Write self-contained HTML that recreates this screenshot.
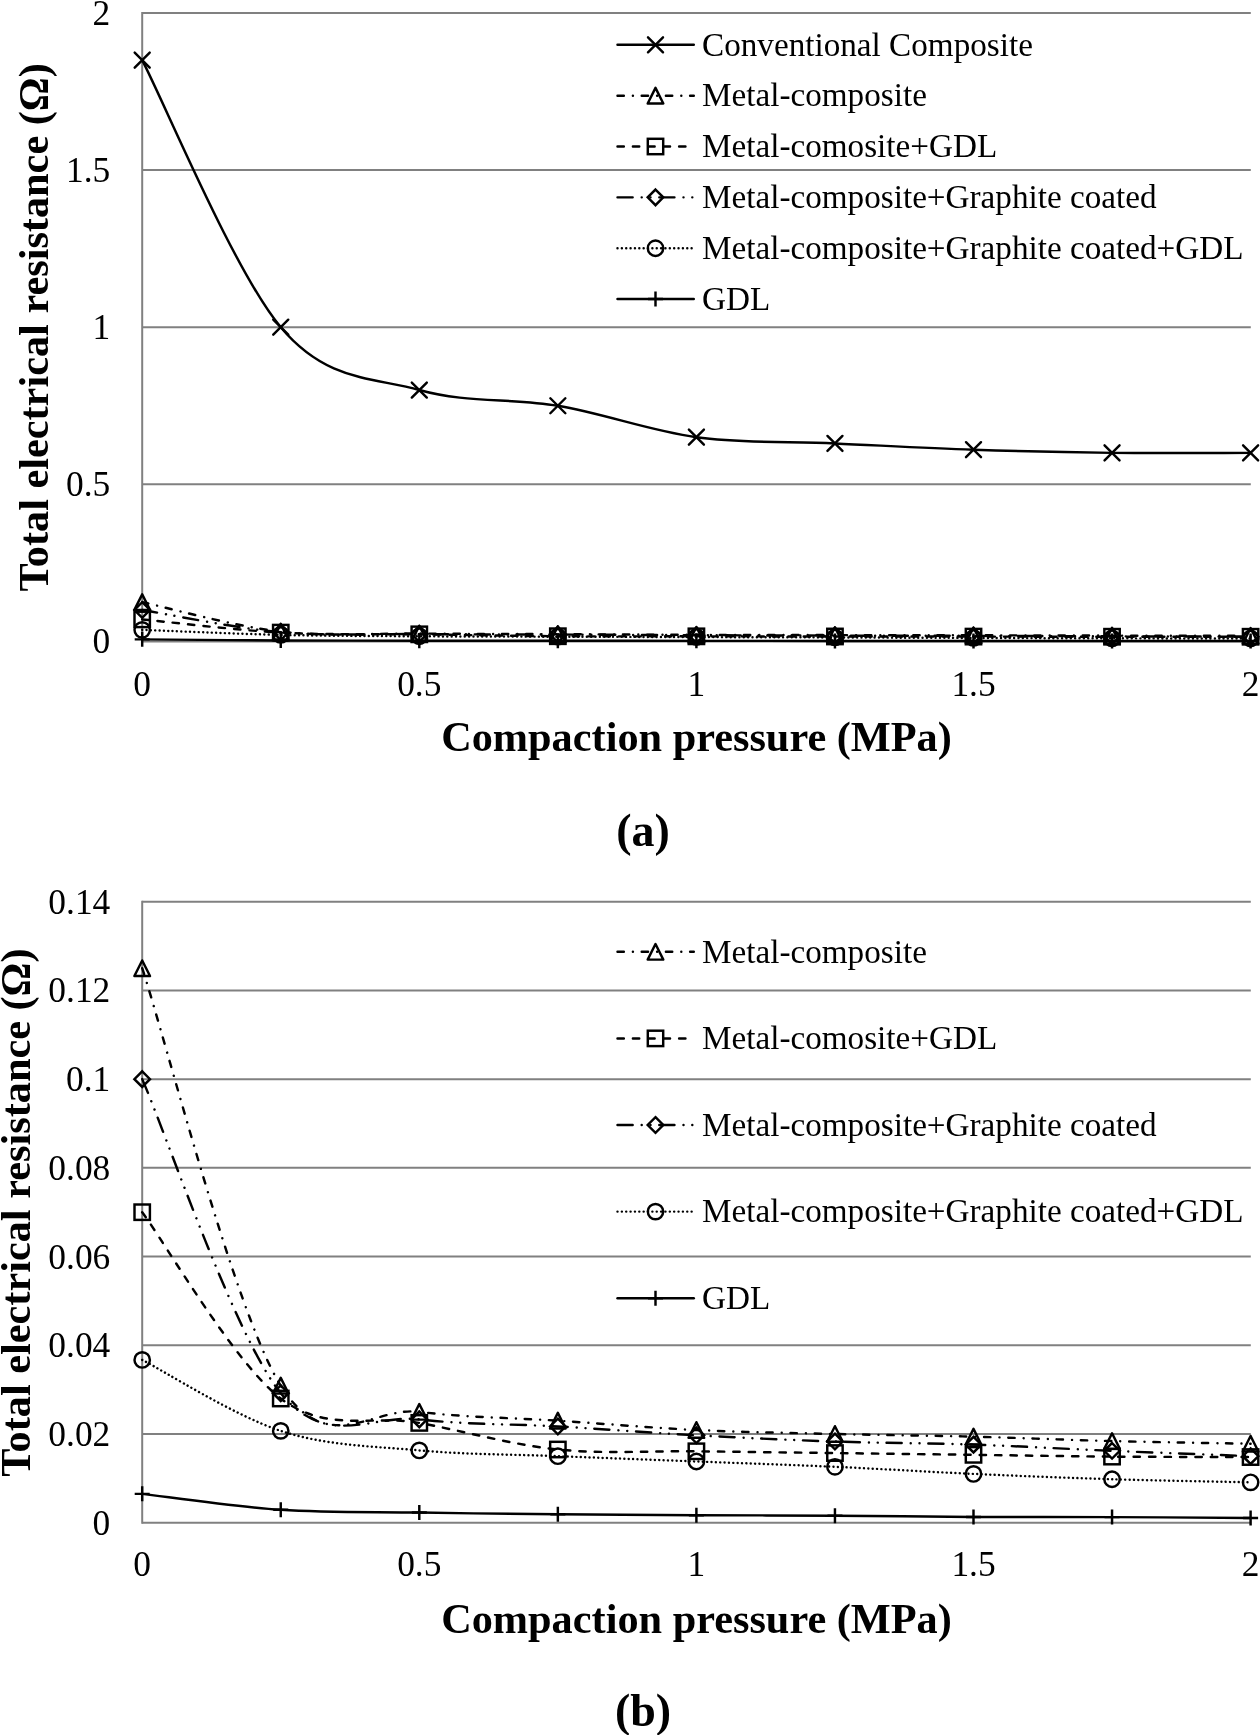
<!DOCTYPE html>
<html><head><meta charset="utf-8"><style>
html,body{margin:0;padding:0;background:#fff;}
svg{display:block;filter:grayscale(1);}
text{font-family:"Liberation Serif",serif;fill:#000;}
.tk{font-size:35.4px;}
.lg{font-size:33.2px;}
.ti{font-size:42.3px;font-weight:bold;}
.tl{font-size:46px;font-weight:bold;}
</style></head><body>
<svg width="1260" height="1735" viewBox="0 0 1260 1735">
<rect width="1260" height="1735" fill="#fff"/>
<path d="M142.2,641.40L1250.8,641.40" stroke="#808080" stroke-width="2"/>
<path d="M142.2,484.30L1250.8,484.30" stroke="#808080" stroke-width="2"/>
<path d="M142.2,327.20L1250.8,327.20" stroke="#808080" stroke-width="2"/>
<path d="M142.2,170.10L1250.8,170.10" stroke="#808080" stroke-width="2"/>
<path d="M142.2,13.00L1250.8,13.00" stroke="#808080" stroke-width="2"/>
<path d="M142.2,12.00L142.2,642.40" stroke="#808080" stroke-width="2"/>
<text x="110.3" y="653.40" class="tk" text-anchor="end">0</text>
<text x="110.3" y="496.30" class="tk" text-anchor="end">0.5</text>
<text x="110.3" y="339.20" class="tk" text-anchor="end">1</text>
<text x="110.3" y="182.10" class="tk" text-anchor="end">1.5</text>
<text x="110.3" y="25.00" class="tk" text-anchor="end">2</text>
<text x="142.20" y="695.5" class="tk" text-anchor="middle">0</text>
<text x="419.30" y="695.5" class="tk" text-anchor="middle">0.5</text>
<text x="696.40" y="695.5" class="tk" text-anchor="middle">1</text>
<text x="973.50" y="695.5" class="tk" text-anchor="middle">1.5</text>
<text x="1250.60" y="695.5" class="tk" text-anchor="middle">2</text>
<text x="696.5" y="750.6" class="ti" text-anchor="middle">Compaction pressure (MPa)</text>
<text x="643" y="846" class="tl" text-anchor="middle">(a)</text>
<text transform="translate(47.6,327.4) rotate(-90)" x="0" y="0" class="ti" text-anchor="middle">Total electrical resistance (Ω)</text>
<path d="M142.20,639.36 C165.29,639.55 234.57,640.27 280.75,640.49 C326.93,640.71 373.12,640.63 419.30,640.68 C465.48,640.74 511.67,640.77 557.85,640.80 C604.03,640.83 650.22,640.85 696.40,640.87 C742.58,640.88 788.77,640.88 834.95,640.90 C881.13,640.92 927.32,640.97 973.50,640.99 C1019.68,641.01 1065.87,640.99 1112.05,641.00 C1158.23,641.02 1227.51,641.05 1250.60,641.06" fill="none" stroke="#000" stroke-width="2.45" stroke-linecap="round" stroke-linejoin="round"/><path d="M134.70,639.36L149.70,639.36M142.20,631.86L142.20,646.86" stroke="#000" stroke-width="2.45" fill="none"/><path d="M273.25,640.49L288.25,640.49M280.75,632.99L280.75,647.99" stroke="#000" stroke-width="2.45" fill="none"/><path d="M411.80,640.68L426.80,640.68M419.30,633.18L419.30,648.18" stroke="#000" stroke-width="2.45" fill="none"/><path d="M550.35,640.80L565.35,640.80M557.85,633.30L557.85,648.30" stroke="#000" stroke-width="2.45" fill="none"/><path d="M688.90,640.87L703.90,640.87M696.40,633.37L696.40,648.37" stroke="#000" stroke-width="2.45" fill="none"/><path d="M827.45,640.90L842.45,640.90M834.95,633.40L834.95,648.40" stroke="#000" stroke-width="2.45" fill="none"/><path d="M966.00,640.99L981.00,640.99M973.50,633.49L973.50,648.49" stroke="#000" stroke-width="2.45" fill="none"/><path d="M1104.55,641.00L1119.55,641.00M1112.05,633.50L1112.05,648.50" stroke="#000" stroke-width="2.45" fill="none"/><path d="M1243.10,641.06L1258.10,641.06M1250.60,633.56L1250.60,648.56" stroke="#000" stroke-width="2.45" fill="none"/>
<path d="M142.20,629.87 C165.29,630.71 234.57,633.83 280.75,634.90 C326.93,635.96 373.12,635.98 419.30,636.28 C465.48,636.58 511.67,636.56 557.85,636.69 C604.03,636.82 650.22,636.94 696.40,637.06 C742.58,637.19 788.77,637.29 834.95,637.44 C881.13,637.59 927.32,637.80 973.50,637.94 C1019.68,638.09 1065.87,638.22 1112.05,638.32 C1158.23,638.42 1227.51,638.50 1250.60,638.54" fill="none" stroke="#000" stroke-width="2.45" stroke-linecap="round" stroke-linejoin="round" stroke-dasharray="0.01 4.35"/><circle cx="142.20" cy="629.87" r="7.7" stroke="#000" stroke-width="2.45" fill="none"/><circle cx="280.75" cy="634.90" r="7.7" stroke="#000" stroke-width="2.45" fill="none"/><circle cx="419.30" cy="636.28" r="7.7" stroke="#000" stroke-width="2.45" fill="none"/><circle cx="557.85" cy="636.69" r="7.7" stroke="#000" stroke-width="2.45" fill="none"/><circle cx="696.40" cy="637.06" r="7.7" stroke="#000" stroke-width="2.45" fill="none"/><circle cx="834.95" cy="637.44" r="7.7" stroke="#000" stroke-width="2.45" fill="none"/><circle cx="973.50" cy="637.94" r="7.7" stroke="#000" stroke-width="2.45" fill="none"/><circle cx="1112.05" cy="638.32" r="7.7" stroke="#000" stroke-width="2.45" fill="none"/><circle cx="1250.60" cy="638.54" r="7.7" stroke="#000" stroke-width="2.45" fill="none"/>
<path d="M142.20,609.98 C165.29,613.69 234.57,628.21 280.75,632.23 C326.93,636.24 373.12,633.69 419.30,634.08 C465.48,634.47 511.67,634.39 557.85,634.58 C604.03,634.77 650.22,635.03 696.40,635.21 C742.58,635.39 788.77,635.54 834.95,635.65 C881.13,635.76 927.32,635.76 973.50,635.87 C1019.68,635.98 1065.87,636.17 1112.05,636.31 C1158.23,636.45 1227.51,636.62 1250.60,636.69" fill="none" stroke="#000" stroke-width="2.45" stroke-linecap="round" stroke-linejoin="round" stroke-dasharray="15.15 9.05 0.01 8.79 0.01 8.79"/><path d="M142.20,602.18L150.00,609.98L142.20,617.78L134.40,609.98Z" stroke="#000" stroke-width="2.45" fill="none" stroke-linejoin="miter"/><path d="M280.75,624.43L288.55,632.23L280.75,640.03L272.95,632.23Z" stroke="#000" stroke-width="2.45" fill="none" stroke-linejoin="miter"/><path d="M419.30,626.28L427.10,634.08L419.30,641.88L411.50,634.08Z" stroke="#000" stroke-width="2.45" fill="none" stroke-linejoin="miter"/><path d="M557.85,626.78L565.65,634.58L557.85,642.38L550.05,634.58Z" stroke="#000" stroke-width="2.45" fill="none" stroke-linejoin="miter"/><path d="M696.40,627.41L704.20,635.21L696.40,643.01L688.60,635.21Z" stroke="#000" stroke-width="2.45" fill="none" stroke-linejoin="miter"/><path d="M834.95,627.85L842.75,635.65L834.95,643.45L827.15,635.65Z" stroke="#000" stroke-width="2.45" fill="none" stroke-linejoin="miter"/><path d="M973.50,628.07L981.30,635.87L973.50,643.67L965.70,635.87Z" stroke="#000" stroke-width="2.45" fill="none" stroke-linejoin="miter"/><path d="M1112.05,628.51L1119.85,636.31L1112.05,644.11L1104.25,636.31Z" stroke="#000" stroke-width="2.45" fill="none" stroke-linejoin="miter"/><path d="M1250.60,628.89L1258.40,636.69L1250.60,644.49L1242.80,636.69Z" stroke="#000" stroke-width="2.45" fill="none" stroke-linejoin="miter"/>
<path d="M142.20,619.41 C165.29,621.61 234.57,630.11 280.75,632.60 C326.93,635.09 373.12,633.73 419.30,634.33 C465.48,634.93 511.67,635.88 557.85,636.22 C604.03,636.55 650.22,636.30 696.40,636.34 C742.58,636.38 788.77,636.43 834.95,636.47 C881.13,636.51 927.32,636.55 973.50,636.59 C1019.68,636.63 1065.87,636.69 1112.05,636.72 C1158.23,636.74 1227.51,636.74 1250.60,636.75" fill="none" stroke="#000" stroke-width="2.45" stroke-linecap="round" stroke-linejoin="round" stroke-dasharray="6.35 9.05"/><rect x="134.50" y="611.71" width="15.4" height="15.4" stroke="#000" stroke-width="2.45" fill="none"/><rect x="273.05" y="624.90" width="15.4" height="15.4" stroke="#000" stroke-width="2.45" fill="none"/><rect x="411.60" y="626.63" width="15.4" height="15.4" stroke="#000" stroke-width="2.45" fill="none"/><rect x="550.15" y="628.52" width="15.4" height="15.4" stroke="#000" stroke-width="2.45" fill="none"/><rect x="688.70" y="628.64" width="15.4" height="15.4" stroke="#000" stroke-width="2.45" fill="none"/><rect x="827.25" y="628.77" width="15.4" height="15.4" stroke="#000" stroke-width="2.45" fill="none"/><rect x="965.80" y="628.89" width="15.4" height="15.4" stroke="#000" stroke-width="2.45" fill="none"/><rect x="1104.35" y="629.02" width="15.4" height="15.4" stroke="#000" stroke-width="2.45" fill="none"/><rect x="1242.90" y="629.05" width="15.4" height="15.4" stroke="#000" stroke-width="2.45" fill="none"/>
<path d="M142.20,602.12 C165.29,607.05 234.57,626.45 280.75,631.69 C326.93,636.93 373.12,633.13 419.30,633.54 C465.48,633.96 511.67,633.96 557.85,634.17 C604.03,634.39 650.22,634.68 696.40,634.83 C742.58,634.99 788.77,635.04 834.95,635.12 C881.13,635.19 927.32,635.22 973.50,635.30 C1019.68,635.39 1065.87,635.53 1112.05,635.62 C1158.23,635.70 1227.51,635.78 1250.60,635.81" fill="none" stroke="#000" stroke-width="2.45" stroke-linecap="round" stroke-linejoin="round" stroke-dasharray="6.35 9.05 0.01 8.79"/><path d="M142.20,594.33L150.00,609.92L134.40,609.92Z" stroke="#000" stroke-width="2.45" fill="none" stroke-linejoin="round"/><path d="M280.75,623.89L288.55,639.49L272.95,639.49Z" stroke="#000" stroke-width="2.45" fill="none" stroke-linejoin="round"/><path d="M419.30,625.75L427.10,641.34L411.50,641.34Z" stroke="#000" stroke-width="2.45" fill="none" stroke-linejoin="round"/><path d="M557.85,626.37L565.65,641.97L550.05,641.97Z" stroke="#000" stroke-width="2.45" fill="none" stroke-linejoin="round"/><path d="M696.40,627.03L704.20,642.63L688.60,642.63Z" stroke="#000" stroke-width="2.45" fill="none" stroke-linejoin="round"/><path d="M834.95,627.32L842.75,642.92L827.15,642.92Z" stroke="#000" stroke-width="2.45" fill="none" stroke-linejoin="round"/><path d="M973.50,627.50L981.30,643.10L965.70,643.10Z" stroke="#000" stroke-width="2.45" fill="none" stroke-linejoin="round"/><path d="M1112.05,627.82L1119.85,643.42L1104.25,643.42Z" stroke="#000" stroke-width="2.45" fill="none" stroke-linejoin="round"/><path d="M1250.60,628.01L1258.40,643.61L1242.80,643.61Z" stroke="#000" stroke-width="2.45" fill="none" stroke-linejoin="round"/>
<path d="M142.20,60.13 C165.29,104.64 234.57,272.21 280.75,327.20 C326.93,382.19 373.12,376.95 419.30,390.04 C465.48,403.13 511.67,397.89 557.85,405.75 C604.03,413.61 650.22,430.89 696.40,437.17 C742.58,443.45 788.77,441.36 834.95,443.45 C881.13,445.55 927.32,448.17 973.50,449.74 C1019.68,451.31 1065.87,452.36 1112.05,452.88 C1158.23,453.40 1227.51,452.88 1250.60,452.88" fill="none" stroke="#000" stroke-width="2.45" stroke-linecap="round" stroke-linejoin="round"/><path d="M134.70,52.63L149.70,67.63M134.70,67.63L149.70,52.63" stroke="#000" stroke-width="2.45" fill="none" stroke-linecap="round"/><path d="M273.25,319.70L288.25,334.70M273.25,334.70L288.25,319.70" stroke="#000" stroke-width="2.45" fill="none" stroke-linecap="round"/><path d="M411.80,382.54L426.80,397.54M411.80,397.54L426.80,382.54" stroke="#000" stroke-width="2.45" fill="none" stroke-linecap="round"/><path d="M550.35,398.25L565.35,413.25M550.35,413.25L565.35,398.25" stroke="#000" stroke-width="2.45" fill="none" stroke-linecap="round"/><path d="M688.90,429.67L703.90,444.67M688.90,444.67L703.90,429.67" stroke="#000" stroke-width="2.45" fill="none" stroke-linecap="round"/><path d="M827.45,435.95L842.45,450.95M827.45,450.95L842.45,435.95" stroke="#000" stroke-width="2.45" fill="none" stroke-linecap="round"/><path d="M966.00,442.24L981.00,457.24M966.00,457.24L981.00,442.24" stroke="#000" stroke-width="2.45" fill="none" stroke-linecap="round"/><path d="M1104.55,445.38L1119.55,460.38M1104.55,460.38L1119.55,445.38" stroke="#000" stroke-width="2.45" fill="none" stroke-linecap="round"/><path d="M1243.10,445.38L1258.10,460.38M1243.10,460.38L1258.10,445.38" stroke="#000" stroke-width="2.45" fill="none" stroke-linecap="round"/>
<path d="M617.5,44.80L693.8,44.80" stroke="#000" stroke-width="2.45" stroke-linecap="round"/><path d="M648.00,37.30L663.00,52.30M648.00,52.30L663.00,37.30" stroke="#000" stroke-width="2.45" fill="none" stroke-linecap="round"/><text x="702" y="55.50" class="lg">Conventional Composite</text>
<path d="M617.5,95.65L693.8,95.65" stroke="#000" stroke-width="2.45" stroke-linecap="round" stroke-dasharray="6.35 9.05 0.01 8.79"/><path d="M655.50,87.85L663.30,103.45L647.70,103.45Z" stroke="#000" stroke-width="2.45" fill="none" stroke-linejoin="round"/><text x="702" y="106.35" class="lg">Metal-composite</text>
<path d="M617.5,146.50L693.8,146.50" stroke="#000" stroke-width="2.45" stroke-linecap="round" stroke-dasharray="6.35 9.05"/><rect x="647.80" y="138.80" width="15.4" height="15.4" stroke="#000" stroke-width="2.45" fill="none"/><text x="702" y="157.20" class="lg">Metal-comosite+GDL</text>
<path d="M617.5,197.35L693.8,197.35" stroke="#000" stroke-width="2.45" stroke-linecap="round" stroke-dasharray="15.15 9.05 0.01 8.79 0.01 8.79"/><path d="M655.50,189.55L663.30,197.35L655.50,205.15L647.70,197.35Z" stroke="#000" stroke-width="2.45" fill="none" stroke-linejoin="miter"/><text x="702" y="208.05" class="lg">Metal-composite+Graphite coated</text>
<path d="M617.5,248.20L693.8,248.20" stroke="#000" stroke-width="2.45" stroke-linecap="round" stroke-dasharray="0.01 4.35"/><circle cx="655.50" cy="248.20" r="7.7" stroke="#000" stroke-width="2.45" fill="none"/><text x="702" y="258.90" class="lg">Metal-composite+Graphite coated+GDL</text>
<path d="M617.5,299.05L693.8,299.05" stroke="#000" stroke-width="2.45" stroke-linecap="round"/><path d="M648.00,299.05L663.00,299.05M655.50,291.55L655.50,306.55" stroke="#000" stroke-width="2.45" fill="none"/><text x="702" y="309.75" class="lg">GDL</text>
<path d="M142.2,1522.70L1250.8,1522.70" stroke="#808080" stroke-width="2"/>
<path d="M142.2,1433.99L1250.8,1433.99" stroke="#808080" stroke-width="2"/>
<path d="M142.2,1345.27L1250.8,1345.27" stroke="#808080" stroke-width="2"/>
<path d="M142.2,1256.56L1250.8,1256.56" stroke="#808080" stroke-width="2"/>
<path d="M142.2,1167.84L1250.8,1167.84" stroke="#808080" stroke-width="2"/>
<path d="M142.2,1079.13L1250.8,1079.13" stroke="#808080" stroke-width="2"/>
<path d="M142.2,990.42L1250.8,990.42" stroke="#808080" stroke-width="2"/>
<path d="M142.2,901.70L1250.8,901.70" stroke="#808080" stroke-width="2"/>
<path d="M142.2,900.70L142.2,1523.70" stroke="#808080" stroke-width="2"/>
<text x="110.3" y="1534.70" class="tk" text-anchor="end">0</text>
<text x="110.3" y="1445.99" class="tk" text-anchor="end">0.02</text>
<text x="110.3" y="1357.27" class="tk" text-anchor="end">0.04</text>
<text x="110.3" y="1268.56" class="tk" text-anchor="end">0.06</text>
<text x="110.3" y="1179.84" class="tk" text-anchor="end">0.08</text>
<text x="110.3" y="1091.13" class="tk" text-anchor="end">0.1</text>
<text x="110.3" y="1002.42" class="tk" text-anchor="end">0.12</text>
<text x="110.3" y="913.70" class="tk" text-anchor="end">0.14</text>
<text x="142.20" y="1576" class="tk" text-anchor="middle">0</text>
<text x="419.30" y="1576" class="tk" text-anchor="middle">0.5</text>
<text x="696.40" y="1576" class="tk" text-anchor="middle">1</text>
<text x="973.50" y="1576" class="tk" text-anchor="middle">1.5</text>
<text x="1250.60" y="1576" class="tk" text-anchor="middle">2</text>
<text x="696.5" y="1632.5" class="ti" text-anchor="middle">Compaction pressure (MPa)</text>
<text x="643" y="1726.3" class="tl" text-anchor="middle">(b)</text>
<text transform="translate(30,1212.6) rotate(-90)" x="0" y="0" class="ti" text-anchor="middle">Total electrical resistance (Ω)</text>
<path d="M142.20,1493.87 C165.29,1496.53 234.57,1506.72 280.75,1509.84 C326.93,1512.96 373.12,1511.85 419.30,1512.59 C465.48,1513.33 511.67,1513.84 557.85,1514.27 C604.03,1514.70 650.22,1514.92 696.40,1515.16 C742.58,1515.40 788.77,1515.40 834.95,1515.69 C881.13,1515.99 927.32,1516.70 973.50,1516.93 C1019.68,1517.17 1065.87,1516.95 1112.05,1517.11 C1158.23,1517.27 1227.51,1517.78 1250.60,1517.91" fill="none" stroke="#000" stroke-width="2.45" stroke-linecap="round" stroke-linejoin="round"/><path d="M134.70,1493.87L149.70,1493.87M142.20,1486.37L142.20,1501.37" stroke="#000" stroke-width="2.45" fill="none"/><path d="M273.25,1509.84L288.25,1509.84M280.75,1502.34L280.75,1517.34" stroke="#000" stroke-width="2.45" fill="none"/><path d="M411.80,1512.59L426.80,1512.59M419.30,1505.09L419.30,1520.09" stroke="#000" stroke-width="2.45" fill="none"/><path d="M550.35,1514.27L565.35,1514.27M557.85,1506.77L557.85,1521.77" stroke="#000" stroke-width="2.45" fill="none"/><path d="M688.90,1515.16L703.90,1515.16M696.40,1507.66L696.40,1522.66" stroke="#000" stroke-width="2.45" fill="none"/><path d="M827.45,1515.69L842.45,1515.69M834.95,1508.19L834.95,1523.19" stroke="#000" stroke-width="2.45" fill="none"/><path d="M966.00,1516.93L981.00,1516.93M973.50,1509.43L973.50,1524.43" stroke="#000" stroke-width="2.45" fill="none"/><path d="M1104.55,1517.11L1119.55,1517.11M1112.05,1509.61L1112.05,1524.61" stroke="#000" stroke-width="2.45" fill="none"/><path d="M1243.10,1517.91L1258.10,1517.91M1250.60,1510.41L1250.60,1525.41" stroke="#000" stroke-width="2.45" fill="none"/>
<path d="M142.20,1359.91 C165.29,1371.74 234.57,1415.80 280.75,1430.88 C326.93,1445.96 373.12,1446.18 419.30,1450.40 C465.48,1454.61 511.67,1454.32 557.85,1456.16 C604.03,1458.01 650.22,1459.71 696.40,1461.49 C742.58,1463.26 788.77,1464.74 834.95,1466.81 C881.13,1468.88 927.32,1471.84 973.50,1473.91 C1019.68,1475.98 1065.87,1477.83 1112.05,1479.23 C1158.23,1480.63 1227.51,1481.82 1250.60,1482.34" fill="none" stroke="#000" stroke-width="2.45" stroke-linecap="round" stroke-linejoin="round" stroke-dasharray="0.01 4.35"/><circle cx="142.20" cy="1359.91" r="7.7" stroke="#000" stroke-width="2.45" fill="none"/><circle cx="280.75" cy="1430.88" r="7.7" stroke="#000" stroke-width="2.45" fill="none"/><circle cx="419.30" cy="1450.40" r="7.7" stroke="#000" stroke-width="2.45" fill="none"/><circle cx="557.85" cy="1456.16" r="7.7" stroke="#000" stroke-width="2.45" fill="none"/><circle cx="696.40" cy="1461.49" r="7.7" stroke="#000" stroke-width="2.45" fill="none"/><circle cx="834.95" cy="1466.81" r="7.7" stroke="#000" stroke-width="2.45" fill="none"/><circle cx="973.50" cy="1473.91" r="7.7" stroke="#000" stroke-width="2.45" fill="none"/><circle cx="1112.05" cy="1479.23" r="7.7" stroke="#000" stroke-width="2.45" fill="none"/><circle cx="1250.60" cy="1482.34" r="7.7" stroke="#000" stroke-width="2.45" fill="none"/>
<path d="M142.20,1079.13 C165.29,1131.47 234.57,1336.47 280.75,1393.18 C326.93,1449.88 373.12,1413.80 419.30,1419.35 C465.48,1424.89 511.67,1423.78 557.85,1426.45 C604.03,1429.11 650.22,1432.80 696.40,1435.32 C742.58,1437.83 788.77,1439.97 834.95,1441.53 C881.13,1443.08 927.32,1443.08 973.50,1444.63 C1019.68,1446.18 1065.87,1448.92 1112.05,1450.84 C1158.23,1452.76 1227.51,1455.28 1250.60,1456.16" fill="none" stroke="#000" stroke-width="2.45" stroke-linecap="round" stroke-linejoin="round" stroke-dasharray="15.15 9.05 0.01 8.79 0.01 8.79"/><path d="M142.20,1071.33L150.00,1079.13L142.20,1086.93L134.40,1079.13Z" stroke="#000" stroke-width="2.45" fill="none" stroke-linejoin="miter"/><path d="M280.75,1385.38L288.55,1393.18L280.75,1400.98L272.95,1393.18Z" stroke="#000" stroke-width="2.45" fill="none" stroke-linejoin="miter"/><path d="M419.30,1411.55L427.10,1419.35L419.30,1427.15L411.50,1419.35Z" stroke="#000" stroke-width="2.45" fill="none" stroke-linejoin="miter"/><path d="M557.85,1418.65L565.65,1426.45L557.85,1434.25L550.05,1426.45Z" stroke="#000" stroke-width="2.45" fill="none" stroke-linejoin="miter"/><path d="M696.40,1427.52L704.20,1435.32L696.40,1443.12L688.60,1435.32Z" stroke="#000" stroke-width="2.45" fill="none" stroke-linejoin="miter"/><path d="M834.95,1433.73L842.75,1441.53L834.95,1449.33L827.15,1441.53Z" stroke="#000" stroke-width="2.45" fill="none" stroke-linejoin="miter"/><path d="M973.50,1436.83L981.30,1444.63L973.50,1452.43L965.70,1444.63Z" stroke="#000" stroke-width="2.45" fill="none" stroke-linejoin="miter"/><path d="M1112.05,1443.04L1119.85,1450.84L1112.05,1458.64L1104.25,1450.84Z" stroke="#000" stroke-width="2.45" fill="none" stroke-linejoin="miter"/><path d="M1250.60,1448.36L1258.40,1456.16L1250.60,1463.96L1242.80,1456.16Z" stroke="#000" stroke-width="2.45" fill="none" stroke-linejoin="miter"/>
<path d="M142.20,1212.20 C165.29,1243.25 234.57,1363.38 280.75,1398.50 C326.93,1433.62 373.12,1414.39 419.30,1422.90 C465.48,1431.40 511.67,1444.78 557.85,1449.51 C604.03,1454.24 650.22,1450.69 696.40,1451.29 C742.58,1451.88 788.77,1452.47 834.95,1453.06 C881.13,1453.65 927.32,1454.24 973.50,1454.83 C1019.68,1455.43 1065.87,1456.24 1112.05,1456.61 C1158.23,1456.98 1227.51,1456.98 1250.60,1457.05" fill="none" stroke="#000" stroke-width="2.45" stroke-linecap="round" stroke-linejoin="round" stroke-dasharray="6.35 9.05"/><rect x="134.50" y="1204.50" width="15.4" height="15.4" stroke="#000" stroke-width="2.45" fill="none"/><rect x="273.05" y="1390.80" width="15.4" height="15.4" stroke="#000" stroke-width="2.45" fill="none"/><rect x="411.60" y="1415.20" width="15.4" height="15.4" stroke="#000" stroke-width="2.45" fill="none"/><rect x="550.15" y="1441.81" width="15.4" height="15.4" stroke="#000" stroke-width="2.45" fill="none"/><rect x="688.70" y="1443.59" width="15.4" height="15.4" stroke="#000" stroke-width="2.45" fill="none"/><rect x="827.25" y="1445.36" width="15.4" height="15.4" stroke="#000" stroke-width="2.45" fill="none"/><rect x="965.80" y="1447.13" width="15.4" height="15.4" stroke="#000" stroke-width="2.45" fill="none"/><rect x="1104.35" y="1448.91" width="15.4" height="15.4" stroke="#000" stroke-width="2.45" fill="none"/><rect x="1242.90" y="1449.35" width="15.4" height="15.4" stroke="#000" stroke-width="2.45" fill="none"/>
<path d="M142.20,968.24 C165.29,1037.80 234.57,1311.71 280.75,1385.64 C326.93,1459.57 373.12,1405.97 419.30,1411.81 C465.48,1417.65 511.67,1417.65 557.85,1420.68 C604.03,1423.71 650.22,1427.78 696.40,1429.99 C742.58,1432.21 788.77,1432.88 834.95,1433.99 C881.13,1435.09 927.32,1435.46 973.50,1436.65 C1019.68,1437.83 1065.87,1439.90 1112.05,1441.08 C1158.23,1442.27 1227.51,1443.30 1250.60,1443.74" fill="none" stroke="#000" stroke-width="2.45" stroke-linecap="round" stroke-linejoin="round" stroke-dasharray="6.35 9.05 0.01 8.79"/><path d="M142.20,960.44L150.00,976.04L134.40,976.04Z" stroke="#000" stroke-width="2.45" fill="none" stroke-linejoin="round"/><path d="M280.75,1377.84L288.55,1393.44L272.95,1393.44Z" stroke="#000" stroke-width="2.45" fill="none" stroke-linejoin="round"/><path d="M419.30,1404.01L427.10,1419.61L411.50,1419.61Z" stroke="#000" stroke-width="2.45" fill="none" stroke-linejoin="round"/><path d="M557.85,1412.88L565.65,1428.48L550.05,1428.48Z" stroke="#000" stroke-width="2.45" fill="none" stroke-linejoin="round"/><path d="M696.40,1422.19L704.20,1437.79L688.60,1437.79Z" stroke="#000" stroke-width="2.45" fill="none" stroke-linejoin="round"/><path d="M834.95,1426.19L842.75,1441.79L827.15,1441.79Z" stroke="#000" stroke-width="2.45" fill="none" stroke-linejoin="round"/><path d="M973.50,1428.85L981.30,1444.45L965.70,1444.45Z" stroke="#000" stroke-width="2.45" fill="none" stroke-linejoin="round"/><path d="M1112.05,1433.28L1119.85,1448.88L1104.25,1448.88Z" stroke="#000" stroke-width="2.45" fill="none" stroke-linejoin="round"/><path d="M1250.60,1435.94L1258.40,1451.54L1242.80,1451.54Z" stroke="#000" stroke-width="2.45" fill="none" stroke-linejoin="round"/>
<path d="M617.5,951.80L693.8,951.80" stroke="#000" stroke-width="2.45" stroke-linecap="round" stroke-dasharray="6.35 9.05 0.01 8.79"/><path d="M655.50,944.00L663.30,959.60L647.70,959.60Z" stroke="#000" stroke-width="2.45" fill="none" stroke-linejoin="round"/><text x="702" y="962.50" class="lg">Metal-composite</text>
<path d="M617.5,1038.40L693.8,1038.40" stroke="#000" stroke-width="2.45" stroke-linecap="round" stroke-dasharray="6.35 9.05"/><rect x="647.80" y="1030.70" width="15.4" height="15.4" stroke="#000" stroke-width="2.45" fill="none"/><text x="702" y="1049.10" class="lg">Metal-comosite+GDL</text>
<path d="M617.5,1125.00L693.8,1125.00" stroke="#000" stroke-width="2.45" stroke-linecap="round" stroke-dasharray="15.15 9.05 0.01 8.79 0.01 8.79"/><path d="M655.50,1117.20L663.30,1125.00L655.50,1132.80L647.70,1125.00Z" stroke="#000" stroke-width="2.45" fill="none" stroke-linejoin="miter"/><text x="702" y="1135.70" class="lg">Metal-composite+Graphite coated</text>
<path d="M617.5,1211.60L693.8,1211.60" stroke="#000" stroke-width="2.45" stroke-linecap="round" stroke-dasharray="0.01 4.35"/><circle cx="655.50" cy="1211.60" r="7.7" stroke="#000" stroke-width="2.45" fill="none"/><text x="702" y="1222.30" class="lg">Metal-composite+Graphite coated+GDL</text>
<path d="M617.5,1298.20L693.8,1298.20" stroke="#000" stroke-width="2.45" stroke-linecap="round"/><path d="M648.00,1298.20L663.00,1298.20M655.50,1290.70L655.50,1305.70" stroke="#000" stroke-width="2.45" fill="none"/><text x="702" y="1308.90" class="lg">GDL</text>
</svg>
</body></html>
